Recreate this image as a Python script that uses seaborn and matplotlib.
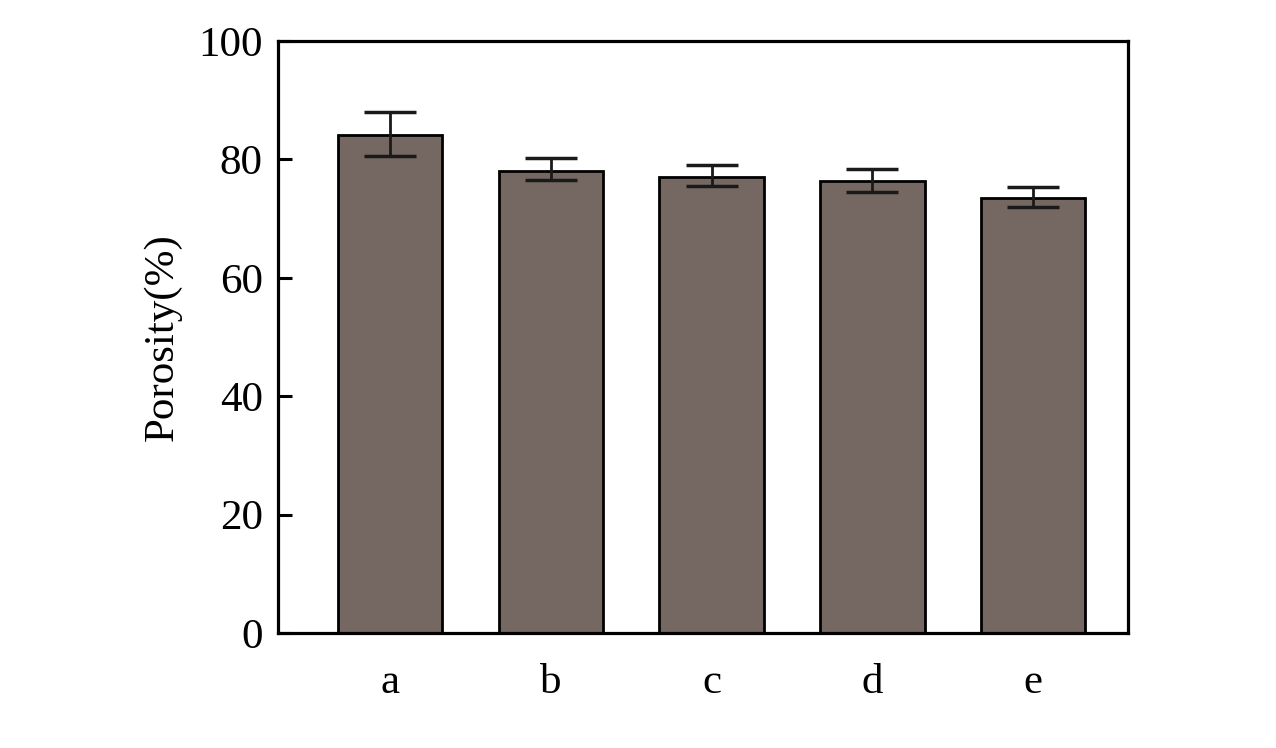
import matplotlib
matplotlib.use("Agg")
import matplotlib.pyplot as plt
import seaborn as sns
import pandas as pd
import numpy as np

categories = ["a", "b", "c", "d", "e"]
porosity = [84.1, 78.0, 77.0, 76.4, 73.5]
err_low = [3.5, 1.5, 1.5, 1.9, 1.5]
err_high = [3.9, 2.2, 2.1, 2.0, 1.8]

sns.set_theme(style="white")
plt.rcParams["font.family"] = ["Liberation Serif", "DejaVu Serif"]
plt.rcParams["text.color"] = "black"
plt.rcParams["axes.labelcolor"] = "black"
plt.rcParams["xtick.color"] = "black"
plt.rcParams["ytick.color"] = "black"

df = pd.DataFrame({"cat": categories, "val": porosity})

fig = plt.figure(figsize=(12.76, 7.48), dpi=100)
ax = fig.add_axes([278/1276, 1 - 633/748, 850/1276, 592/748])

sns.barplot(data=df, x="cat", y="val", order=categories, color="#756862",
            saturation=1, width=0.65, edgecolor="black", linewidth=2,
            errorbar=None, ax=ax)
ax.errorbar(np.arange(len(categories)), porosity, yerr=[err_low, err_high],
            fmt="none", ecolor="#1a1a1a", elinewidth=2, capsize=19, capthick=2.5)

ax.set_ylim(0, 100)
ax.set_xlim(-0.697, 4.591)
ax.set_yticks([0, 20, 40, 60, 80, 100])
ax.set_xlabel("")
ax.set_ylabel("Porosity(%)", fontsize=31, labelpad=12)
ax.tick_params(axis="y", direction="in", length=10, width=2.2, labelsize=31, pad=11, left=True)
ax.tick_params(axis="x", length=0, labelsize=31, pad=22)
for s in ax.spines.values():
    s.set_visible(True)
    s.set_color("black")
    s.set_linewidth(2.3)

fig.savefig("out.png", dpi=100, facecolor="white")
